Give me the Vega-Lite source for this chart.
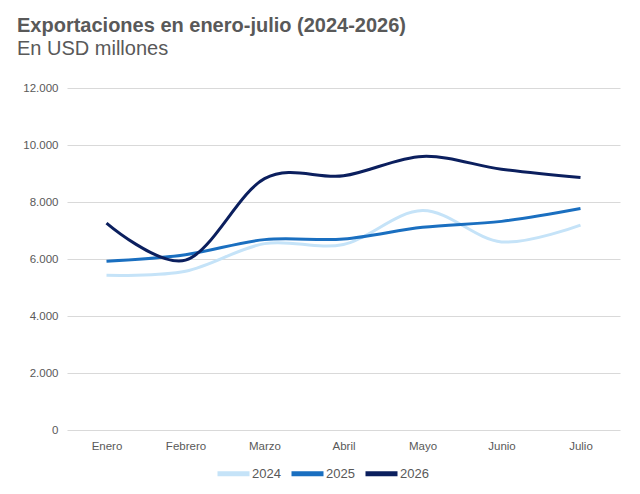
{
  "$schema": "https://vega.github.io/schema/vega-lite/v6.json",
  "width": 553,
  "height": 342,
  "autosize": "none",
  "padding": {"left": 67, "top": 88, "right": 20, "bottom": 64},
  "background": "white",
  "config": {
    "font": "Liberation Sans",
    "view": {"stroke": null},
    "axis": {"labelFont": "Liberation Sans", "labelColor": "#595959", "labelFontSize": 11.5}
  },
  "title": {
    "text": "Exportaciones en enero-julio (2024-2026)",
    "subtitle": "En USD millones",
    "anchor": "start",
    "frame": "group",
    "dx": -50,
    "offset": 23,
    "font": "Liberation Sans",
    "fontSize": 20,
    "fontWeight": "bold",
    "color": "#595959",
    "subtitleFont": "Liberation Sans",
    "subtitleFontSize": 20,
    "subtitleColor": "#595959",
    "subtitlePadding": 3
  },
  "data": {
    "values": [
      {"mes": "Enero", "anio": "2024", "valor": 5430},
      {"mes": "Febrero", "anio": "2024", "valor": 5570},
      {"mes": "Marzo", "anio": "2024", "valor": 6540},
      {"mes": "Abril", "anio": "2024", "valor": 6510},
      {"mes": "Mayo", "anio": "2024", "valor": 7700},
      {"mes": "Junio", "anio": "2024", "valor": 6600},
      {"mes": "Julio", "anio": "2024", "valor": 7190},
      {"mes": "Enero", "anio": "2025", "valor": 5920},
      {"mes": "Febrero", "anio": "2025", "valor": 6150},
      {"mes": "Marzo", "anio": "2025", "valor": 6680},
      {"mes": "Abril", "anio": "2025", "valor": 6700},
      {"mes": "Mayo", "anio": "2025", "valor": 7110},
      {"mes": "Junio", "anio": "2025", "valor": 7320},
      {"mes": "Julio", "anio": "2025", "valor": 7770},
      {"mes": "Enero", "anio": "2026", "valor": 7260},
      {"mes": "Febrero", "anio": "2026", "valor": 5960},
      {"mes": "Marzo", "anio": "2026", "valor": 8820},
      {"mes": "Abril", "anio": "2026", "valor": 8920},
      {"mes": "Mayo", "anio": "2026", "valor": 9600},
      {"mes": "Junio", "anio": "2026", "valor": 9150},
      {"mes": "Julio", "anio": "2026", "valor": 8860}
    ]
  },
  "mark": {"type": "line", "interpolate": "cardinal", "strokeWidth": 3},
  "encoding": {
    "x": {
      "field": "mes",
      "type": "ordinal",
      "sort": ["Enero", "Febrero", "Marzo", "Abril", "Mayo", "Junio", "Julio"],
      "scale": {"type": "point", "padding": 0.5},
      "axis": {"title": null, "labelAngle": 0, "domain": false, "ticks": false, "grid": false, "labelPadding": 10}
    },
    "y": {
      "field": "valor",
      "type": "quantitative",
      "scale": {"domain": [0, 12000], "nice": false},
      "axis": {
        "title": null,
        "values": [0, 2000, 4000, 6000, 8000, 10000, 12000],
        "format": ",d",
        "labelExpr": "replace(datum.label, /,/g, '.')",
        "domain": false,
        "ticks": false,
        "gridColor": "#d9d9d9",
        "gridWidth": 1,
        "labelPadding": 9
      }
    },
    "color": {
      "field": "anio",
      "type": "nominal",
      "scale": {"domain": ["2024", "2025", "2026"], "range": ["#c5e3f8", "#1a6fc0", "#0b1f5e"]},
      "legend": {
        "title": null,
        "orient": "none",
        "direction": "horizontal",
        "legendX": 148,
        "legendY": 367,
        "symbolType": "stroke",
        "symbolSize": 1024,
        "symbolStrokeWidth": 5,
        "labelOffset": 0,
        "columnPadding": 0,
        "labelFontSize": 13,
        "labelColor": "#595959",
        "labelFont": "Liberation Sans"
      }
    }
  }
}
